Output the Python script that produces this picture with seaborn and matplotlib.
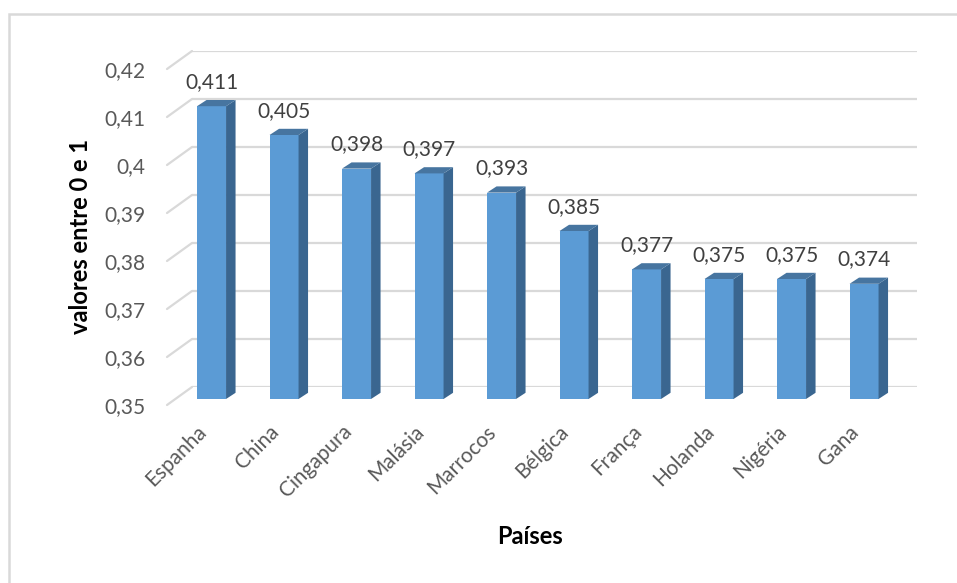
import matplotlib
matplotlib.use("Agg")
import matplotlib.pyplot as plt
import seaborn as sns
import pandas as pd
from matplotlib.lines import Line2D
from matplotlib.patches import Polygon, Rectangle

# Índice por país (valores entre 0 e 1)
paises = ["Espanha", "China", "Cingapura", "Malásia", "Marrocos",
          "Bélgica", "França", "Holanda", "Nigéria", "Gana"]
valores = [0.411, 0.405, 0.398, 0.397, 0.393, 0.385, 0.377, 0.375, 0.375, 0.374]
y_ticks = [0.35, 0.36, 0.37, 0.38, 0.39, 0.40, 0.41, 0.42]
y_tick_labels = ["0,35", "0,36", "0,37", "0,38", "0,39", "0,4", "0,41", "0,42"]
x_titulo = "Países"
y_titulo = "valores entre 0 e 1"

sns.set_theme(style="white")
plt.rcParams["font.family"] = ["Lato", "DejaVu Sans"]

W, H = 957, 583
fig = plt.figure(figsize=(W / 100, H / 100), dpi=100)
fig.patch.set_facecolor("white")

# plot planes (pixels): bar plane, back wall (deeper) and front edge
ax_w, ax_h = 725, 336
bar_left, bar_bottom = 175.3, 184
back_dx, back_dy = 16.7, 12
front_dx, front_dy = -8.3, -6

def frac(left, bottom):
    return [left / W, bottom / H, ax_w / W, ax_h / H]

ylim = (y_ticks[0], y_ticks[-1])
xlim = (-0.5, len(paises) - 0.5)

ax_back = fig.add_axes(frac(bar_left + back_dx, bar_bottom + back_dy))
ax_bar = fig.add_axes(frac(bar_left, bar_bottom))
ax_front = fig.add_axes(frac(bar_left + front_dx, bar_bottom + front_dy))

grid_color = "#d9d9d9"

# back wall with horizontal gridlines
ax_back.set_xlim(*xlim)
ax_back.set_ylim(*ylim)
ax_back.set_yticks(y_ticks)
ax_back.set_xticks([])
ax_back.tick_params(left=False, labelleft=False)
ax_back.yaxis.grid(True, color=grid_color, linewidth=1.6)
for s in ax_back.spines.values():
    s.set_visible(False)
ax_back.patch.set_visible(False)

# bars
df = pd.DataFrame({"pais": paises, "valor": valores})
sns.barplot(data=df, x="pais", y="valor", ax=ax_bar, color="#5B9BD5",
            saturation=1, width=0.4, linewidth=0)
ax_bar.set_xlim(*xlim)
ax_bar.set_ylim(*ylim)
ax_bar.axis("off")

# 3D depth of each column: side and top faces
px_x = (xlim[1] - xlim[0]) / ax_w
px_y = (ylim[1] - ylim[0]) / ax_h
ddx, ddy = 9.5 * px_x, 6.2 * px_y
base = ylim[0]
for p in ax_bar.patches:
    x0 = p.get_x()
    x1 = x0 + p.get_width()
    top = p.get_y() + p.get_height()
    side = Polygon([(x1, base), (x1 + ddx, base + ddy), (x1 + ddx, top + ddy), (x1, top)],
                   closed=True, facecolor="#3A6690", edgecolor="none", clip_on=False)
    cap = Polygon([(x0, top), (x0 + ddx, top + ddy), (x1 + ddx, top + ddy), (x1, top)],
                  closed=True, facecolor="#4775A0", edgecolor="none", clip_on=False)
    ax_bar.add_patch(side)
    ax_bar.add_patch(cap)

# value labels
for i, v in enumerate(valores):
    ax_bar.annotate(f"{v:.3f}".replace(".", ","), xy=(i, v), xytext=(0, 17.5),
                    textcoords="offset points", ha="center", va="center",
                    fontsize=15, color="#404040", annotation_clip=False)

# front edge: tick labels
ax_front.set_xlim(*xlim)
ax_front.set_ylim(*ylim)
ax_front.set_yticks(y_ticks, y_tick_labels)
ax_front.set_xticks(range(len(paises)), paises)
ax_front.tick_params(axis="y", length=0, pad=15.6, labelsize=15, labelcolor="#595959")
ax_front.tick_params(axis="x", length=0, pad=17, labelsize=15, labelcolor="#595959")
for lab in ax_front.get_xticklabels():
    lab.set_rotation(45)
    lab.set_ha("right")
    lab.set_va("center")
    lab.set_rotation_mode("anchor")
for s in ax_front.spines.values():
    s.set_visible(False)
ax_front.patch.set_visible(False)

# side wall gridlines joining front edge and back wall
fig.canvas.draw()
for v in y_ticks:
    p0 = ax_front.transData.transform((xlim[0], v))
    p1 = ax_back.transData.transform((xlim[0], v))
    fig.add_artist(Line2D([p0[0], p1[0]], [p0[1], p1[1]], transform=None,
                          color=grid_color, linewidth=1.6))

# axis titles
ax_front.text((530 - (bar_left + front_dx)) / ax_w, (H - 537 - (bar_bottom + front_dy)) / ax_h,
              x_titulo, transform=ax_front.transAxes, ha="center", va="center",
              fontsize=17, fontweight="bold", color="black")
ax_front.text((81 - (bar_left + front_dx)) / ax_w, (H - 236 - (bar_bottom + front_dy)) / ax_h,
              y_titulo, transform=ax_front.transAxes, ha="center", va="center",
              rotation=90, fontsize=17, fontweight="bold", color="black")

# chart area border
fig.add_artist(Rectangle((8.5 / W, -0.2), 1.2, 1.2 - 13.5 / H, transform=fig.transFigure,
                         fill=False, edgecolor=grid_color, linewidth=1.8, clip_on=False))

fig.savefig("out.png", dpi=100, facecolor="white")
